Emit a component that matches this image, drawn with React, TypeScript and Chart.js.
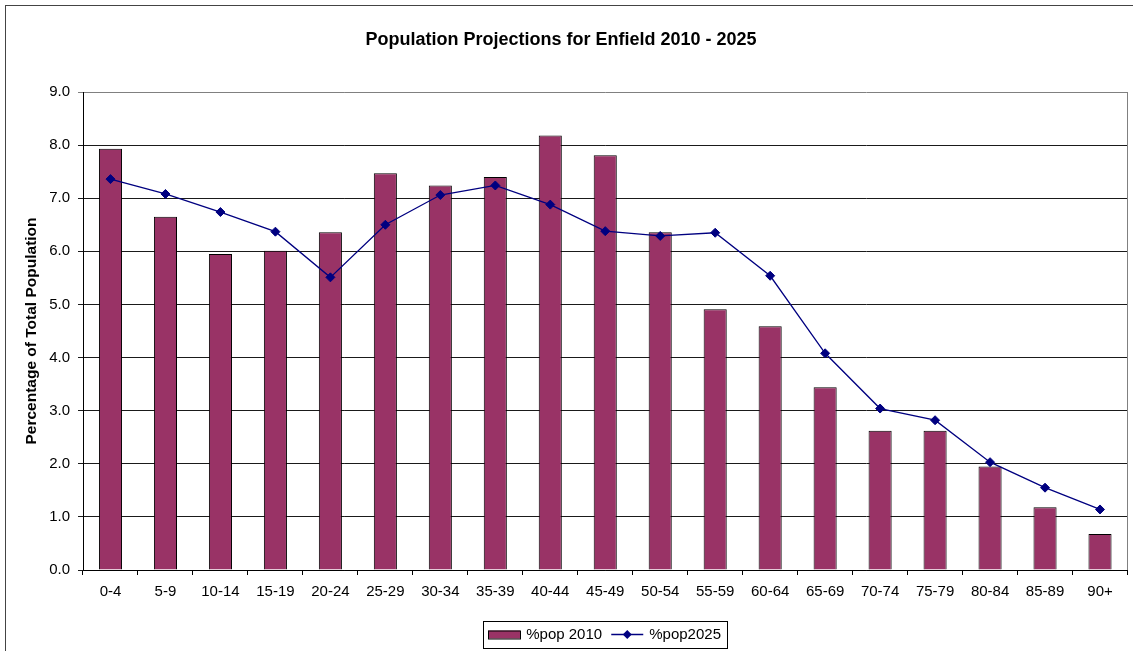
import React, { useEffect, useRef } from "react";
import { Chart, registerables } from "chart.js";

Chart.register(...registerables);

const categories = ["0-4", "5-9", "10-14", "15-19", "20-24", "25-29", "30-34", "35-39", "40-44", "45-49", "50-54", "55-59", "60-64", "65-69", "70-74", "75-79", "80-84", "85-89", "90+"];
const pop2010 = [7.93, 6.65, 5.95, 6.01, 6.36, 7.47, 7.24, 7.40, 8.18, 7.81, 6.36, 4.91, 4.59, 3.44, 2.62, 2.62, 1.95, 1.18, 0.68];
const pop2025 = [7.36, 7.08, 6.74, 6.37, 5.51, 6.50, 7.06, 7.24, 6.88, 6.38, 6.29, 6.35, 5.54, 4.08, 3.04, 2.82, 2.03, 1.55, 1.14];
const yTicks = [0, 1, 2, 3, 4, 5, 6, 7, 8, 9];

const TITLE = "Population Projections for Enfield 2010 - 2025";
const Y_TITLE = "Percentage of Total Population";
const LABEL_2010 = "%pop 2010";
const LABEL_2025 = "%pop2025";

const FONT = "'Liberation Sans', Arial, sans-serif";
const BAR_COLOR = "#993366";
const LINE_COLOR = "#000080";

const decorPlugin = {
  id: "decor",
  beforeDraw(chart: any) {
    const { ctx, width, height } = chart;
    ctx.save();
    ctx.fillStyle = "#ffffff";
    ctx.fillRect(0, 0, width, height);
    ctx.strokeStyle = "#444444";
    ctx.lineWidth = 1;
    ctx.strokeRect(5.5, 5.5, width + 20, height + 20);
    ctx.restore();
  },
  afterDraw(chart: any) {
    const { ctx, chartArea } = chart;
    ctx.save();
    // plot area right border
    ctx.strokeStyle = "#808080";
    ctx.lineWidth = 1;
    ctx.beginPath();
    ctx.moveTo(Math.round(chartArea.right) - 0.5, chartArea.top);
    ctx.lineTo(Math.round(chartArea.right) - 0.5, chartArea.bottom);
    ctx.stroke();

    // title
    ctx.fillStyle = "#000";
    ctx.font = `bold 18px ${FONT}`;
    ctx.textAlign = "center";
    ctx.textBaseline = "middle";
    ctx.fillText(TITLE, 561, 40);

    // legend
    const cx = (chartArea.left + chartArea.right) / 2;
    const top = 621;
    const bottom = 648;
    const cy = (top + bottom) / 2;
    ctx.strokeStyle = "#000";
    ctx.strokeRect(Math.round(cx - 122) + 0.5, top + 0.5, 244, bottom - top);
    ctx.fillStyle = BAR_COLOR;
    ctx.fillRect(Math.round(cx - 117), cy - 4, 32, 8);
    ctx.strokeRect(Math.round(cx - 117) + 0.5, cy - 4 + 0.5, 32, 8);
    ctx.fillStyle = "#000";
    ctx.font = `15px ${FONT}`;
    ctx.textAlign = "left";
    ctx.textBaseline = "middle";
    ctx.fillText(LABEL_2010, cx - 79, cy);
    ctx.strokeStyle = LINE_COLOR;
    ctx.lineWidth = 1.3;
    ctx.beginPath();
    ctx.moveTo(cx + 6, cy);
    ctx.lineTo(cx + 38, cy);
    ctx.stroke();
    ctx.fillStyle = LINE_COLOR;
    ctx.beginPath();
    ctx.moveTo(cx + 22, cy - 4.5);
    ctx.lineTo(cx + 26.5, cy);
    ctx.lineTo(cx + 22, cy + 4.5);
    ctx.lineTo(cx + 17.5, cy);
    ctx.closePath();
    ctx.fill();
    ctx.fillStyle = "#000";
    ctx.fillText(LABEL_2025, cx + 44, cy);
    ctx.restore();
  },
};

export default function App() {
  const ref = useRef<HTMLCanvasElement | null>(null);
  useEffect(() => {
    if (!ref.current) return;
    const chart = new Chart(ref.current, {
      type: "bar",
      data: {
        labels: categories,
        datasets: [
          {
            type: "bar",
            label: LABEL_2010,
            data: pop2010,
            backgroundColor: BAR_COLOR,
            borderColor: "#000000",
            borderWidth: 1,
            barPercentage: 0.42,
            categoryPercentage: 1,
            order: 2,
          },
          {
            type: "line",
            label: LABEL_2025,
            data: pop2025,
            borderColor: LINE_COLOR,
            borderWidth: 1.3,
            pointStyle: "rectRot",
            pointRadius: 4.5,
            pointBackgroundColor: LINE_COLOR,
            pointBorderColor: LINE_COLOR,
            pointBorderWidth: 1,
            tension: 0,
            fill: false,
            order: 1,
          },
        ] as any,
      },
      options: {
        animation: false,
        responsive: false,
        devicePixelRatio: 1,
        layout: { padding: { top: 92, right: 1, bottom: 0, left: 0 } },
        plugins: {
          legend: { display: false },
          title: { display: false },
          tooltip: { enabled: false },
        },
        scales: {
          x: {
            offset: true,
            afterFit(scale: any) {
              scale.height = 81;
            },
            grid: {
              offset: true,
              drawOnChartArea: false,
              drawTicks: true,
              tickLength: 5,
              color: "#000",
            },
            border: { color: "#000", width: 1 },
            ticks: {
              color: "#000",
              font: { family: FONT, size: 15 },
              padding: 8,
              maxRotation: 0,
              autoSkip: false,
            },
          },
          y: {
            min: 0,
            max: 9,
            afterFit(scale: any) {
              scale.width = 83;
            },
            afterBuildTicks(scale: any) {
              scale.ticks = yTicks.map((v) => ({ value: v }));
            },
            grid: {
              color: (c: any) => (c.tick && c.tick.value === 9 ? "#808080" : "#1a1a1a"),
              tickLength: 5,
              drawTicks: true,
            },
            border: { color: "#000", width: 1 },
            ticks: {
              color: "#000",
              font: { family: FONT, size: 15 },
              padding: 8,
              callback: (v: any) => Number(v).toFixed(1),
            },
            title: {
              display: true,
              text: Y_TITLE,
              color: "#000",
              font: { family: FONT, size: 15.5, weight: "bold" },
              padding: { top: 22, bottom: 0 },
            },
          },
        },
      },
      plugins: [decorPlugin],
    });
    return () => chart.destroy();
  }, []);
  return (
    <div style={{ position: "absolute", left: 0, top: 0, width: 1133, height: 651, overflow: "hidden" }}>
      <canvas ref={ref} width={1133} height={651} style={{ display: "block" }} />
    </div>
  );
}
